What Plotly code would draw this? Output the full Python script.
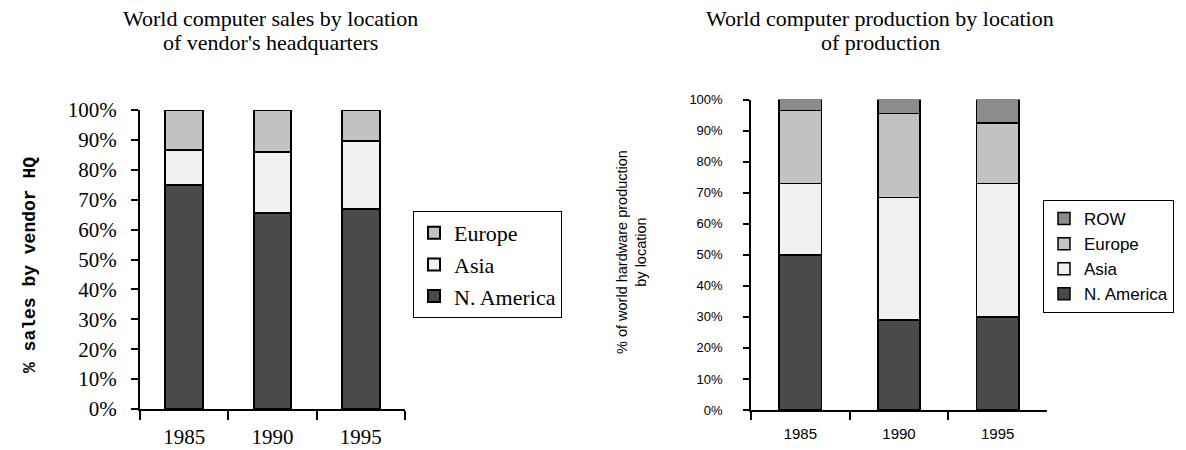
import plotly.graph_objects as go

years = ["1985", "1990", "1995"]

# Left chart: sales by vendor HQ (%)
sales_na = [75, 65.5, 67]
sales_asia = [11.5, 20.5, 22.5]
sales_europe = [13.5, 14, 10.5]

# Right chart: production by location (%)
prod_na = [50, 29, 30]
prod_asia = [23, 39.5, 43]
prod_europe = [23.5, 27, 19.5]
prod_row = [3.5, 4.5, 7.5]

W, H = 1186, 450
def px(x):
    return x / W
def py(y):
    return 1 - y / H

C_NA = "#4a4a4a"
C_ASIA = "#f1f1f1"
C_EU = "#c2c2c2"
C_ROW = "#8c8c8c"

SERIF = "Liberation Serif, Times New Roman, serif"
SANS = "Liberation Sans, Arial, sans-serif"

fig = go.Figure()

left = [("N. America", sales_na, C_NA), ("Asia", sales_asia, C_ASIA), ("Europe", sales_europe, C_EU)]
for name, vals, col in left:
    fig.add_trace(go.Bar(x=years, y=vals, name=name, xaxis="x", yaxis="y",
                         marker=dict(color=col, line=dict(color="black", width=2)),
                         legend="legend"))

right = [("N. America", prod_na, C_NA), ("Asia", prod_asia, C_ASIA),
         ("Europe", prod_europe, C_EU), ("ROW", prod_row, C_ROW)]
for name, vals, col in right:
    fig.add_trace(go.Bar(x=years, y=vals, name=name, xaxis="x2", yaxis="y2",
                         marker=dict(color=col, line=dict(color="black", width=1.5)),
                         legend="legend2"))

tickvals = list(range(0, 101, 10))
ticktext = [f"{v}%" for v in tickvals]

fig.update_layout(
    width=W, height=H,
    margin=dict(l=0, r=0, t=0, b=0, autoexpand=False),
    paper_bgcolor="white", plot_bgcolor="white",
    barmode="stack", bargap=0.57,
    xaxis=dict(domain=[px(140), px(405)], type="category", tickson="boundaries",
               showline=True, linecolor="black", linewidth=2,
               ticks="outside", ticklen=9, tickwidth=2, tickcolor="black",
               ticklabelstandoff=8, automargin=False,
               tickfont=dict(family=SERIF, size=21, color="black"),
               showgrid=False, zeroline=False, anchor="y"),
    yaxis=dict(domain=[py(409), py(110)], range=[0, 100],
               tickvals=tickvals, ticktext=ticktext,
               showline=True, linecolor="black", linewidth=2,
               ticks="outside", ticklen=7, tickwidth=2, tickcolor="black",
               ticklabelstandoff=10, automargin=False,
               tickfont=dict(family=SERIF, size=21, color="black"),
               showgrid=False, zeroline=False, anchor="x"),
    xaxis2=dict(domain=[px(751), px(1047)], type="category", tickson="boundaries",
                showline=True, linecolor="black", linewidth=1.5,
                ticks="outside", ticklen=8, tickwidth=1.5, tickcolor="black",
                ticklabelstandoff=9, automargin=False,
                tickfont=dict(family=SANS, size=15, color="black"),
                showgrid=False, zeroline=False, anchor="y2"),
    yaxis2=dict(domain=[py(410), py(99.5)], range=[0, 100],
                tickvals=tickvals, ticktext=ticktext,
                showline=True, linecolor="black", linewidth=1.5,
                ticks="outside", ticklen=6, tickwidth=1.5, tickcolor="black",
                ticklabelstandoff=18, automargin=False,
                tickfont=dict(family=SANS, size=13, color="black"),
                showgrid=False, zeroline=False, anchor="x2"),
    legend=dict(x=px(413), y=py(211), xanchor="left", yanchor="top",
                traceorder="reversed", bordercolor="black", borderwidth=1,
                bgcolor="white", font=dict(family=SERIF, size=22, color="black"),
                itemwidth=30, tracegroupgap=0),
    legend2=dict(x=px(1043), y=py(200), xanchor="left", yanchor="top",
                 traceorder="reversed", bordercolor="black", borderwidth=1,
                 bgcolor="white", font=dict(family=SANS, size=17, color="black"),
                 itemwidth=30, tracegroupgap=0),
    showlegend=True,
)

annotations = [
    dict(text="World computer sales by location", x=px(270), y=py(18)),
    dict(text="of vendor's headquarters", x=px(270), y=py(42)),
    dict(text="World computer production by location", x=px(880), y=py(18)),
    dict(text="of production", x=px(880), y=py(42)),
]
for a in annotations:
    fig.add_annotation(xref="paper", yref="paper", showarrow=False,
                       xanchor="center", yanchor="middle",
                       font=dict(family=SERIF, size=22, color="black"), **a)

fig.add_annotation(xref="paper", yref="paper", x=px(30), y=py(265), showarrow=False,
                   text="<b>% sales by vendor HQ</b>", textangle=-90,
                   xanchor="center", yanchor="middle",
                   font=dict(family="Liberation Mono, Courier New, monospace", size=18, color="black"))
fig.add_annotation(xref="paper", yref="paper", x=px(631), y=py(252), showarrow=False,
                   text="% of world hardware production<br>by location", textangle=-90,
                   xanchor="center", yanchor="middle",
                   font=dict(family=SANS, size=14.5, color="black"))

fig.write_html("out.html", config={"displayModeBar": False},
               post_script="document.body.style.margin='0';")
